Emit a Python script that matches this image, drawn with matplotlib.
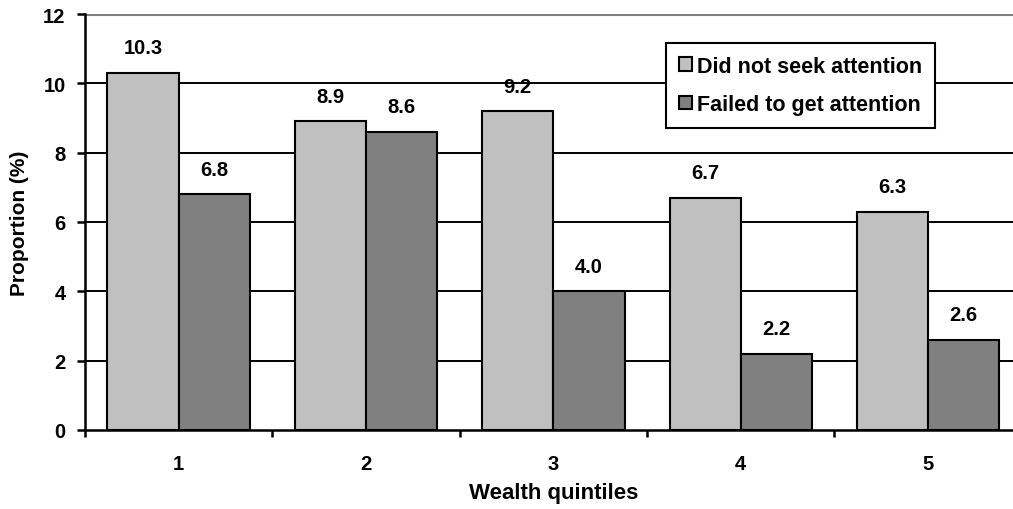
import matplotlib
matplotlib.use("Agg")
import matplotlib.pyplot as plt
import numpy as np

categories = ["1", "2", "3", "4", "5"]
did_not_seek = [10.3, 8.9, 9.2, 6.7, 6.3]
failed_to_get = [6.8, 8.6, 4.0, 2.2, 2.6]
series_names = ["Did not seek attention", "Failed to get attention"]

plt.rcParams['font.family'] = ['Liberation Sans', 'DejaVu Sans']
plt.rcParams['font.weight'] = 'bold'

FS = 14.5
fig = plt.figure(figsize=(10.13, 5.10), dpi=100)
AXW = 936.7
ax = fig.add_axes([85/1013, 79/510, AXW/1013, 416/510])

x = np.arange(1, len(categories) + 1)
w = 0.38
lw = 1.5
b1 = ax.bar(x - w/2, did_not_seek, w, color='#C0C0C0', edgecolor='black', linewidth=lw, zorder=3, label=series_names[0])
b2 = ax.bar(x + w/2, failed_to_get, w, color='#808080', edgecolor='black', linewidth=lw, zorder=3, label=series_names[1])

for bars, vals in ((b1, did_not_seek), (b2, failed_to_get)):
    for r, v in zip(bars, vals):
        ax.annotate(f"{v:.1f}", (r.get_x() + r.get_width()/2, v), xytext=(0, 18),
                    textcoords='offset points', ha='center', va='center',
                    fontsize=FS, fontweight='bold', zorder=5)

ax.set_ylim(0, 12)
ax.set_xlim(0.5, 5.5)
ax.set_yticks(range(0, 13, 2))
for yv in range(2, 12, 2):
    ax.axhline(yv, color='black', linewidth=1.4, zorder=1)
ax.axhline(12, color='#808080', linewidth=2.2, zorder=1)

ax.set_xticks(x)
ax.set_xticklabels(categories)
ax.set_xticks(np.arange(0.5, 6.0, 1.0), minor=True)
ax.tick_params(axis='x', which='major', length=0, pad=17, labelsize=FS)
ax.tick_params(axis='x', which='minor', length=5, width=1.8, direction='out')
ax.tick_params(axis='y', length=6, width=1.8, direction='out', pad=8, labelsize=FS)
for lab in ax.get_xticklabels() + ax.get_yticklabels():
    lab.set_fontweight('bold')

for s in ['top', 'right']:
    ax.spines[s].set_visible(False)
for s in ['left', 'bottom']:
    ax.spines[s].set_linewidth(1.8)
    ax.spines[s].set_zorder(4)

ax.set_ylabel("Proportion (%)", fontsize=FS + 0.5, fontweight='bold')
ax.set_xlabel("Wealth quintiles", fontsize=FS + 1.5, fontweight='bold')
ax.yaxis.set_label_coords(-56/AXW, 0.5)
ax.xaxis.set_label_coords(0.5, -(499 - 431)/416)
ax.xaxis.label.set_va('baseline')

leg = ax.legend(loc='upper left', bbox_to_anchor=((666-85)/AXW, (431-44)/416),
                frameon=True, fancybox=False, edgecolor='black', framealpha=1,
                prop={'size': 15.5, 'weight': 'bold'},
                handlelength=0.6, handleheight=0.6, handletextpad=0.25,
                borderpad=0.6, labelspacing=0.8, borderaxespad=0)
leg.get_frame().set_linewidth(1.5)
leg.set_zorder(6)

fig.savefig("out.png", dpi=100)
